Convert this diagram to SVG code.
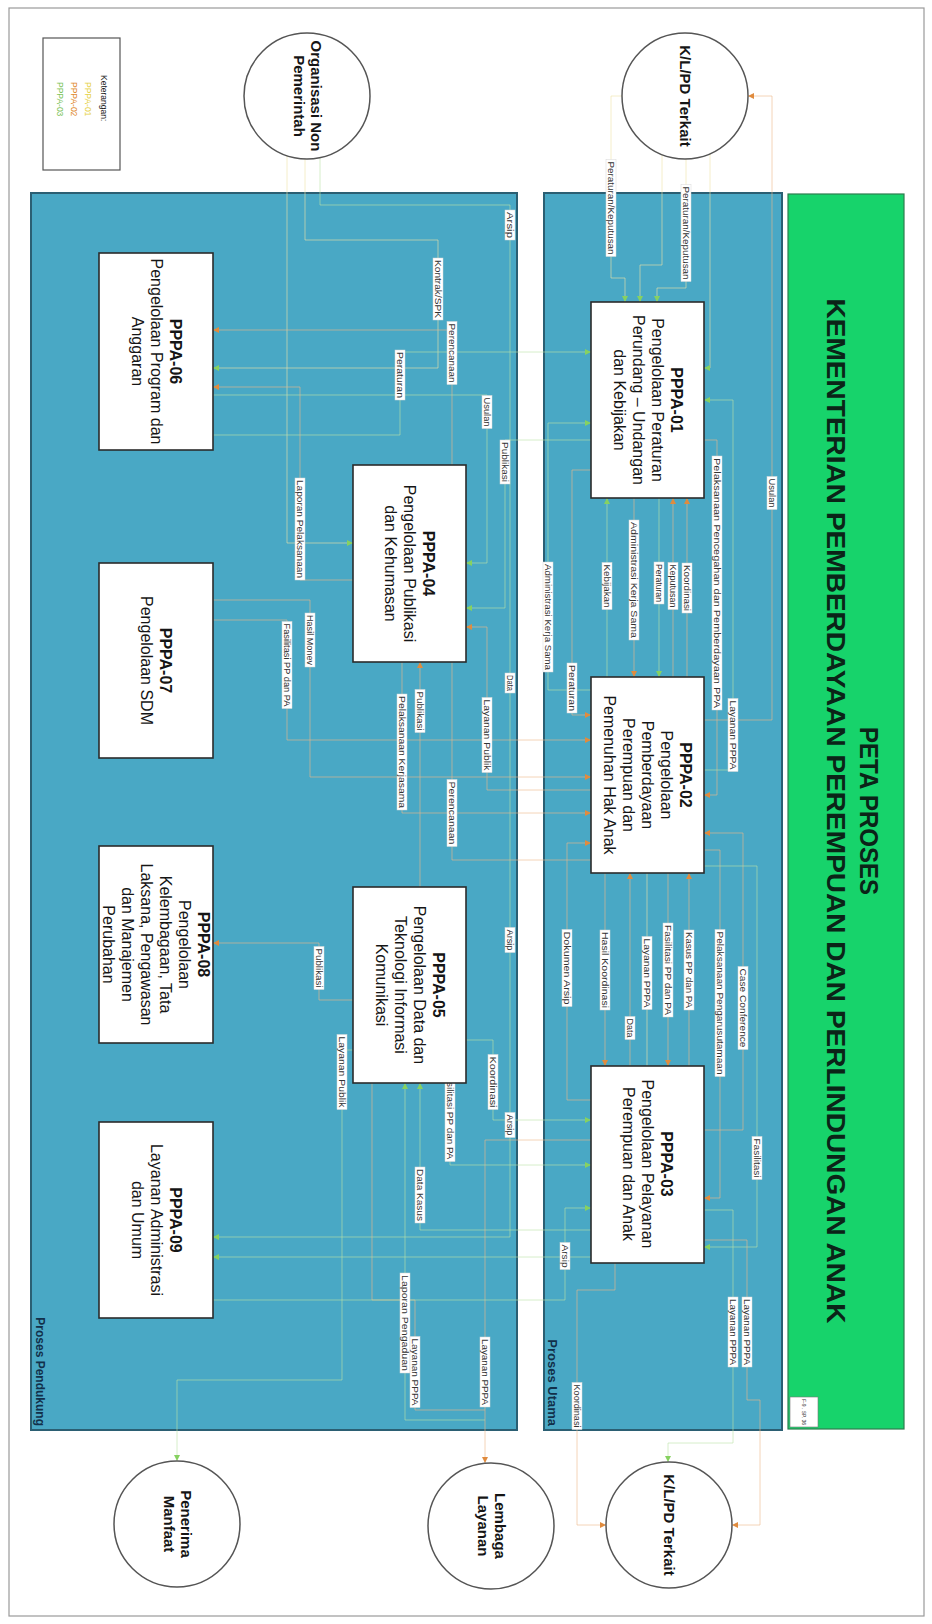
<svg xmlns="http://www.w3.org/2000/svg" width="932" height="1624" viewBox="0 0 932 1624">
<style>
.frame{fill:none;stroke:#9a9a9a;stroke-width:1.2}
.title{fill:#17D36B;stroke:#2E7D4F;stroke-width:1.2}
.ttl{font-family:"Liberation Sans",Arial,sans-serif;font-weight:bold;fill:#0b2418;text-anchor:middle}
.cont{fill:#49A8C5;stroke:#2B5F73;stroke-width:2}
.clbl{font-family:"Liberation Sans",Arial,sans-serif;font-weight:bold;fill:#12304A;text-anchor:end}
.box{fill:#ffffff;stroke:#2b2b2b;stroke-width:1.6}
.bt{font-family:"Liberation Sans",Arial,sans-serif;font-size:16px;fill:#151515;text-anchor:middle}
.bt .h{font-weight:bold}
.circ{fill:#ffffff;stroke:#555555;stroke-width:1.5}
.ct{font-family:"Liberation Sans",Arial,sans-serif;font-size:15px;font-weight:bold;fill:#151515;text-anchor:middle}
.c{fill:none;stroke-width:1;stroke-opacity:0.6}
.cy{stroke:#EFE3A8}
.co{stroke:#EDB98A}
.cg{stroke:#BCE3A6}
.lb rect{fill:#ffffff;stroke:#d8d8d8;stroke-width:0.5}
.lb text{font-family:"Liberation Sans",Arial,sans-serif;font-size:8.5px;fill:#333333;text-anchor:middle}
.leg{fill:#ffffff;stroke:#555555;stroke-width:1.2}
.lt{font-family:"Liberation Sans",Arial,sans-serif;font-size:8.5px}
</style>
<defs>
<marker id="mO" markerUnits="userSpaceOnUse" markerWidth="6" markerHeight="6" refX="6" refY="3" orient="auto"><path d="M0,0 L6,3 L0,6 z" fill="#E08B3E"/></marker>
<marker id="mG" markerUnits="userSpaceOnUse" markerWidth="6" markerHeight="6" refX="6" refY="3" orient="auto"><path d="M0,0 L6,3 L0,6 z" fill="#86D160"/></marker>
</defs>
<g transform="translate(932 0) rotate(90)">
<rect class="frame" x="8" y="8" width="1608" height="915"/>

<g id="title">
<rect class="title" x="194" y="28" width="1235" height="116"/>
<text class="ttl" x="811" y="72" font-size="25" textLength="168" lengthAdjust="spacingAndGlyphs">PETA PROSES</text>
<text class="ttl" x="811" y="105" font-size="25" textLength="1025" lengthAdjust="spacingAndGlyphs">KEMENTERIAN PEMBERDAYAAN PEREMPUAN DAN PERLINDUNGAN ANAK</text>
<rect x="1397" y="114" width="30" height="28" fill="#ffffff" stroke="#777" stroke-width="0.6"/>
<text x="1412" y="130" font-family="Liberation Sans, Arial, sans-serif" font-size="5.5" fill="#333" text-anchor="middle" textLength="26" lengthAdjust="spacingAndGlyphs">F-9 . SP. 36</text>
</g>

<g id="proses-utama">
<rect class="cont" x="193" y="150" width="1237" height="238"/>
<text class="clbl" x="1426" y="384" font-size="13">Proses Utama</text>
</g>
<g id="proses-pendukung">
<rect class="cont" x="193" y="415" width="1237" height="486"/>
<text class="clbl" x="1426" y="896" font-size="12">Proses Pendukung</text>
</g>

<g id="connectors">
<path class="c cy" marker-end="url(#mG)" d="M158,246 H288 V275 H302"/>
<path class="c cy" marker-end="url(#mG)" d="M96,310 V321 H278 V307 H302"/>
<path class="c cy" marker-end="url(#mG)" d="M154,270 H265 V292 H302"/>
<path class="c cy" marker-end="url(#mG)" d="M153,222 H368 V228"/>
<path class="c co" marker-end="url(#mO)" d="M720,228 V160 H96 V184"/>
<path class="c co" marker-end="url(#mO)" d="M440,228 V215 H795 V228"/>
<path class="c co" marker-end="url(#mO)" d="M677,245 H498"/>
<path class="c co" marker-end="url(#mO)" d="M677,259 H498"/>
<path class="c cg" marker-end="url(#mG)" d="M498,273 H677"/>
<path class="c co" marker-end="url(#mO)" d="M498,298 H677"/>
<path class="c cg" marker-end="url(#mG)" d="M677,325 H498"/>
<path class="c cg" marker-end="url(#mG)" d="M690,341 V384 H423 V341"/>
<path class="c co" marker-end="url(#mO)" d="M470,341 V360 H715 V341"/>
<path class="c cg" marker-end="url(#mG)" d="M770,228 V199 H400 V228"/>
<path class="c co" marker-end="url(#mO)" d="M1130,228 V189 H833 V228"/>
<path class="c co" marker-end="url(#mO)" d="M850,228 V212 H1198 V228"/>
<path class="c co" marker-end="url(#mO)" d="M1066,243 H873"/>
<path class="c co" marker-end="url(#mO)" d="M873,264 H1066"/>
<path class="c cy" d="M873,285 H1066"/>
<path class="c co" marker-end="url(#mO)" d="M1066,302 H873"/>
<path class="c co" marker-end="url(#mO)" d="M873,327 H1066"/>
<path class="c co" marker-end="url(#mO)" d="M1100,341 V365 H843 V341"/>
<path class="c cg" marker-end="url(#mG)" d="M866,228 V175 H1247 V228"/>
<path class="c cg" marker-end="url(#mG)" d="M1210,228 V199 H1443 V264 H1462"/>
<path class="c co" marker-end="url(#mO)" d="M1240,228 V185 H1400 V172 H1525 V200"/>
<path class="c co" marker-end="url(#mO)" d="M1263,317 H1290 V355 H1525 V326"/>

<path class="c cg" marker-end="url(#mG)" d="M157,612 H205 V422 H1237 V719"/>
<path class="c cy" marker-end="url(#mG)" d="M158,627 H240 V494 H368 V719"/>
<path class="c cy" marker-end="url(#mG)" d="M155,645 H543 V579"/>
<path class="c co" marker-end="url(#mO)" d="M860,341 V480 H330 V719"/>
<path class="c cg" marker-end="url(#mG)" d="M435,719 V532 H352 V341"/>
<path class="c cg" marker-end="url(#mG)" d="M395,719 V445 H563 V466"/>
<path class="c cg" marker-end="url(#mG)" d="M440,341 V427 H608 V466"/>
<path class="c co" marker-end="url(#mO)" d="M790,341 V445 H627 V466"/>
<path class="c co" marker-end="url(#mO)" d="M580,579 V632 H387 V719"/>
<path class="c co" marker-end="url(#mO)" d="M600,719 V622 H777 V341"/>
<path class="c co" marker-end="url(#mO)" d="M620,719 V645 H740 V341"/>
<path class="c co" marker-end="url(#mO)" d="M887,512 H662"/>
<path class="c co" marker-end="url(#mO)" d="M662,530 H813 V341"/>
<path class="c co" marker-end="url(#mO)" d="M1000,579 V613 H943 V719"/>
<path class="c cg" marker-end="url(#mG)" d="M1050,579 V590 H1380 V755 H1461"/>
<path class="c cg" marker-end="url(#mG)" d="M1040,466 V439 H1120 V341"/>
<path class="c cg" marker-end="url(#mG)" d="M1000,466 V482 H1165 V341"/>
<path class="c cg" marker-end="url(#mG)" d="M1230,341 V512 H1083"/>
<path class="c cg" marker-end="url(#mG)" d="M1420,447 V527 H1083"/>
<path class="c co" d="M1083,560 H1300 V517 H1410 V447"/>
<path class="c co" marker-end="url(#mO)" d="M1140,341 V447 H1463"/>
<path class="c cg" marker-end="url(#mG)" d="M1300,719 V367 H1208 V341"/>
<path class="c cg" marker-end="url(#mG)" d="M1257,341 V719"/>

<g class="lb"><rect x="184.5" y="241" width="97" height="10"/><text x="233" y="249" textLength="93" lengthAdjust="spacingAndGlyphs">Peraturan/Keputusan</text></g>
<g class="lb"><rect x="159.5" y="316" width="97" height="10"/><text x="208" y="324" textLength="93" lengthAdjust="spacingAndGlyphs">Peraturan/Keputusan</text></g>
<g class="lb"><rect x="476.5" y="155" width="33" height="10"/><text x="493" y="163" textLength="29" lengthAdjust="spacingAndGlyphs">Usulan</text></g>
<g class="lb"><rect x="456" y="210" width="254" height="10"/><text x="583" y="218" textLength="250" lengthAdjust="spacingAndGlyphs">Pelaksanaan Pencegahan dan Pemberdayaan PPA</text></g>
<g class="lb"><rect x="563" y="240" width="50" height="10"/><text x="588" y="248" textLength="46" lengthAdjust="spacingAndGlyphs">Koordinasi</text></g>
<g class="lb"><rect x="562.5" y="254" width="47" height="10"/><text x="586" y="262" textLength="43" lengthAdjust="spacingAndGlyphs">Keputusan</text></g>
<g class="lb"><rect x="562" y="268" width="42" height="10"/><text x="583" y="276" textLength="38" lengthAdjust="spacingAndGlyphs">Peraturan</text></g>
<g class="lb"><rect x="520" y="293" width="120" height="10"/><text x="580" y="301" textLength="116" lengthAdjust="spacingAndGlyphs">Administrasi Kerja Sama</text></g>
<g class="lb"><rect x="562.5" y="320" width="47" height="10"/><text x="586" y="328" textLength="43" lengthAdjust="spacingAndGlyphs">Kebijakan</text></g>
<g class="lb"><rect x="562" y="379" width="110" height="10"/><text x="617" y="387" textLength="106" lengthAdjust="spacingAndGlyphs">Administrasi Kerja Sama</text></g>
<g class="lb"><rect x="663" y="355" width="50" height="10"/><text x="688" y="363" textLength="46" lengthAdjust="spacingAndGlyphs">Peraturan</text></g>
<g class="lb"><rect x="698.5" y="194" width="73" height="10"/><text x="735" y="202" textLength="69" lengthAdjust="spacingAndGlyphs">Layanan PPPA</text></g>
<g class="lb"><rect x="966.5" y="184" width="83" height="10"/><text x="1008" y="192" textLength="79" lengthAdjust="spacingAndGlyphs">Case Conference</text></g>
<g class="lb"><rect x="929.5" y="207" width="147" height="10"/><text x="1003" y="215" textLength="143" lengthAdjust="spacingAndGlyphs">Pelaksanaan Pengarusutamaan</text></g>
<g class="lb"><rect x="930" y="238" width="80" height="10"/><text x="970" y="246" textLength="76" lengthAdjust="spacingAndGlyphs">Kasus PP dan PA</text></g>
<g class="lb"><rect x="923" y="259" width="94" height="10"/><text x="970" y="267" textLength="90" lengthAdjust="spacingAndGlyphs">Fasilitasi PP dan PA</text></g>
<g class="lb"><rect x="936.5" y="280" width="73" height="10"/><text x="973" y="288" textLength="69" lengthAdjust="spacingAndGlyphs">Layanan PPPA</text></g>
<g class="lb"><rect x="1016.5" y="297" width="23" height="10"/><text x="1028" y="305" textLength="19" lengthAdjust="spacingAndGlyphs">Data</text></g>
<g class="lb"><rect x="930" y="322" width="80" height="10"/><text x="970" y="330" textLength="76" lengthAdjust="spacingAndGlyphs">Hasil Koordinasi</text></g>
<g class="lb"><rect x="929.5" y="360" width="77" height="10"/><text x="968" y="368" textLength="73" lengthAdjust="spacingAndGlyphs">Dokumen Arsip</text></g>
<g class="lb"><rect x="1136.5" y="170" width="43" height="10"/><text x="1158" y="178" textLength="39" lengthAdjust="spacingAndGlyphs">Fasilitasi</text></g>
<g class="lb"><rect x="1242.5" y="362" width="27" height="10"/><text x="1256" y="370" textLength="23" lengthAdjust="spacingAndGlyphs">Arsip</text></g>
<g class="lb"><rect x="1297" y="180" width="70" height="10"/><text x="1332" y="188" textLength="66" lengthAdjust="spacingAndGlyphs">Layanan PPPA</text></g>
<g class="lb"><rect x="1297" y="194" width="70" height="10"/><text x="1332" y="202" textLength="66" lengthAdjust="spacingAndGlyphs">Layanan PPPA</text></g>
<g class="lb"><rect x="1382.5" y="350" width="47" height="10"/><text x="1406" y="358" textLength="43" lengthAdjust="spacingAndGlyphs">Koordinasi</text></g>

<g class="lb"><rect x="210" y="417" width="30" height="10"/><text x="225" y="425" textLength="26" lengthAdjust="spacingAndGlyphs">Arsip</text></g>
<g class="lb"><rect x="258" y="489" width="62" height="10"/><text x="289" y="497" textLength="58" lengthAdjust="spacingAndGlyphs">Kontrak/SPK</text></g>
<g class="lb"><rect x="321.5" y="475" width="63" height="10"/><text x="353" y="483" textLength="59" lengthAdjust="spacingAndGlyphs">Perencanaan</text></g>
<g class="lb"><rect x="350" y="527" width="50" height="10"/><text x="375" y="535" textLength="46" lengthAdjust="spacingAndGlyphs">Peraturan</text></g>
<g class="lb"><rect x="395.5" y="440" width="33" height="10"/><text x="412" y="448" textLength="29" lengthAdjust="spacingAndGlyphs">Usulan</text></g>
<g class="lb"><rect x="440" y="422" width="44" height="10"/><text x="462" y="430" textLength="40" lengthAdjust="spacingAndGlyphs">Publikasi</text></g>
<g class="lb"><rect x="478" y="627" width="102" height="10"/><text x="529" y="635" textLength="98" lengthAdjust="spacingAndGlyphs">Laporan Pelaksanaan</text></g>
<g class="lb"><rect x="613" y="617" width="54" height="10"/><text x="640" y="625" textLength="50" lengthAdjust="spacingAndGlyphs">Hasil Monev</text></g>
<g class="lb"><rect x="621.5" y="640" width="87" height="10"/><text x="665" y="648" textLength="83" lengthAdjust="spacingAndGlyphs">Fasilitasi PP dan PA</text></g>
<g class="lb"><rect x="673" y="417" width="20" height="10"/><text x="683" y="425" textLength="16" lengthAdjust="spacingAndGlyphs">Data</text></g>
<g class="lb"><rect x="697.5" y="440" width="75" height="10"/><text x="735" y="448" textLength="71" lengthAdjust="spacingAndGlyphs">Layanan Publik</text></g>
<g class="lb"><rect x="689.5" y="507" width="43" height="10"/><text x="711" y="515" textLength="39" lengthAdjust="spacingAndGlyphs">Publikasi</text></g>
<g class="lb"><rect x="694" y="525" width="116" height="10"/><text x="752" y="533" textLength="112" lengthAdjust="spacingAndGlyphs">Pelaksanaan Kerjasama</text></g>
<g class="lb"><rect x="779.5" y="475" width="67" height="10"/><text x="813" y="483" textLength="63" lengthAdjust="spacingAndGlyphs">Perencanaan</text></g>
<g class="lb"><rect x="927.5" y="417" width="25" height="10"/><text x="940" y="425" textLength="21" lengthAdjust="spacingAndGlyphs">Arsip</text></g>
<g class="lb"><rect x="946.5" y="608" width="43" height="10"/><text x="968" y="616" textLength="39" lengthAdjust="spacingAndGlyphs">Publikasi</text></g>
<g class="lb"><rect x="1034.5" y="585" width="75" height="10"/><text x="1072" y="593" textLength="71" lengthAdjust="spacingAndGlyphs">Layanan Publik</text></g>
<g class="lb"><rect x="1054.5" y="434" width="55" height="10"/><text x="1082" y="442" textLength="51" lengthAdjust="spacingAndGlyphs">Koordinasi</text></g>
<g class="lb"><rect x="1112.5" y="417" width="25" height="10"/><text x="1125" y="425" textLength="21" lengthAdjust="spacingAndGlyphs">Arsip</text></g>
<g class="lb"><rect x="1068.5" y="477" width="93" height="10"/><text x="1115" y="485" textLength="89" lengthAdjust="spacingAndGlyphs">Fasilitasi PP dan PA</text></g>
<g class="lb"><rect x="1167" y="507" width="56" height="10"/><text x="1195" y="515" textLength="52" lengthAdjust="spacingAndGlyphs">Data Kasus</text></g>
<g class="lb"><rect x="1273" y="522" width="100" height="10"/><text x="1323" y="530" textLength="96" lengthAdjust="spacingAndGlyphs">Laporan Pengaduan</text></g>
<g class="lb"><rect x="1336.5" y="512" width="71" height="10"/><text x="1372" y="520" textLength="67" lengthAdjust="spacingAndGlyphs">Layanan PPPA</text></g>
<g class="lb"><rect x="1337" y="442" width="70" height="10"/><text x="1372" y="450" textLength="66" lengthAdjust="spacingAndGlyphs">Layanan PPPA</text></g>
</g>

<g id="pppa-01"><rect class="box" x="302" y="228" width="196" height="113"/>
<text class="bt"><tspan class="h" x="400" y="261.5">PPPA-01</tspan><tspan x="400" dy="19">Pengelolaan Peraturan</tspan><tspan x="400" dy="19">Perundang – Undangan</tspan><tspan x="400" dy="19">dan Kebijakan</tspan></text></g>
<g id="pppa-02"><rect class="box" x="677" y="228" width="196" height="113"/>
<text class="bt"><tspan class="h" x="775" y="252">PPPA-02</tspan><tspan x="775" dy="19">Pengelolaan</tspan><tspan x="775" dy="19">Pemberdayaan</tspan><tspan x="775" dy="19">Perempuan dan</tspan><tspan x="775" dy="19">Pemenuhan Hak Anak</tspan></text></g>
<g id="pppa-03"><rect class="box" x="1066" y="228" width="197" height="113"/>
<text class="bt"><tspan class="h" x="1164" y="271">PPPA-03</tspan><tspan x="1164" dy="19">Pengelolaan Pelayanan</tspan><tspan x="1164" dy="19">Perempuan dan Anak</tspan></text></g>
<g id="pppa-04"><rect class="box" x="465" y="466" width="197" height="113"/>
<text class="bt"><tspan class="h" x="563.5" y="509">PPPA-04</tspan><tspan x="563.5" dy="19">Pengelolaan Publikasi</tspan><tspan x="563.5" dy="19">dan Kehumasan</tspan></text></g>
<g id="pppa-05"><rect class="box" x="887" y="466" width="196" height="113"/>
<text class="bt"><tspan class="h" x="985" y="499.5">PPPA-05</tspan><tspan x="985" dy="19">Pengelolaan Data dan</tspan><tspan x="985" dy="19">Teknologi Informasi</tspan><tspan x="985" dy="19">Komunikasi</tspan></text></g>
<g id="pppa-06"><rect class="box" x="253" y="719" width="197" height="114"/>
<text class="bt"><tspan class="h" x="351.5" y="762.5">PPPA-06</tspan><tspan x="351.5" dy="19">Pengelolaan Program dan</tspan><tspan x="351.5" dy="19">Anggaran</tspan></text></g>
<g id="pppa-07"><rect class="box" x="563" y="719" width="195" height="114"/>
<text class="bt"><tspan class="h" x="660.5" y="772">PPPA-07</tspan><tspan x="660.5" dy="19">Pengelolaan SDM</tspan></text></g>
<g id="pppa-08"><rect class="box" x="846" y="719" width="197" height="114"/>
<text class="bt"><tspan class="h" x="944.5" y="734">PPPA-08</tspan><tspan x="944.5" dy="19">Pengelolaan</tspan><tspan x="944.5" dy="19">Kelembagaan, Tata</tspan><tspan x="944.5" dy="19">Laksana, Pengawasan</tspan><tspan x="944.5" dy="19">dan Manajemen</tspan><tspan x="944.5" dy="19">Perubahan</tspan></text></g>
<g id="pppa-09"><rect class="box" x="1122" y="719" width="196" height="114"/>
<text class="bt"><tspan class="h" x="1220" y="762.5">PPPA-09</tspan><tspan x="1220" dy="19">Layanan Administrasi</tspan><tspan x="1220" dy="19">dan Umum</tspan></text></g>

<g id="klpd-terkait-input"><circle class="circ" cx="96" cy="247" r="63"/><text class="ct" x="96" y="252">K/L/PD Terkait</text></g>
<g id="organisasi-non-pemerintah"><circle class="circ" cx="96" cy="625" r="63"/><text class="ct"><tspan x="96" y="621">Organisasi Non</tspan><tspan x="96" dy="17">Pemerintah</tspan></text></g>
<g id="klpd-terkait-output"><circle class="circ" cx="1525" cy="263" r="63"/><text class="ct" x="1525" y="268">K/L/PD Terkait</text></g>
<g id="lembaga-layanan"><circle class="circ" cx="1526" cy="441" r="63"/><text class="ct"><tspan x="1526" y="437">Lembaga</tspan><tspan x="1526" dy="17">Layanan</tspan></text></g>
<g id="penerima-manfaat"><circle class="circ" cx="1524" cy="755" r="63"/><text class="ct"><tspan x="1524" y="751">Penerima</tspan><tspan x="1524" dy="17">Manfaat</tspan></text></g>

<g id="legend">
<rect class="leg" x="38" y="812" width="132" height="77"/>
<text class="lt" x="75" y="831" fill="#222">Keterangan:</text>
<text class="lt" x="82" y="847" fill="#E6D24A">PPPA-01</text>
<text class="lt" x="82" y="861" fill="#E0892D">PPPA-02</text>
<text class="lt" x="82" y="875" fill="#7CC35A">PPPA-03</text>
</g>
</g>
</svg>
